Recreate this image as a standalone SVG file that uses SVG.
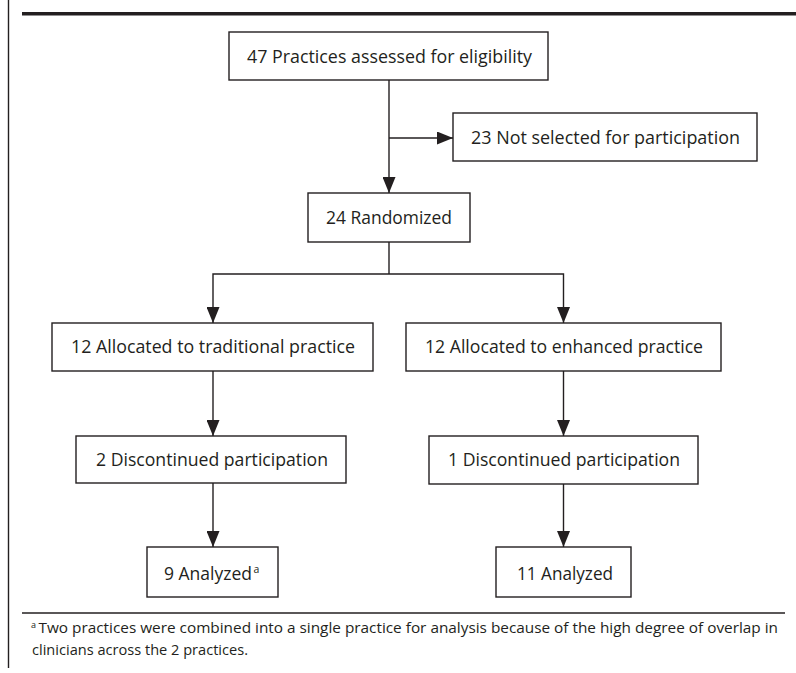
<svg xmlns="http://www.w3.org/2000/svg" width="796" height="673" viewBox="0 0 796 673">
<defs>
<style>
.box{fill:#fff;stroke:#231f20;stroke-width:1.4}
.lbl{font-family:"Open Sans","Liberation Sans",sans-serif;font-size:18px;fill:#231f20;text-anchor:middle}
.con{fill:none;stroke:#231f20;stroke-width:1.4}
.fn{font-family:"Open Sans","Liberation Sans",sans-serif;font-size:14.5px;fill:#231f20}
.sup{font-family:"Open Sans","Liberation Sans",sans-serif;font-size:9px;fill:#231f20}
</style>
<marker id="ah" markerUnits="userSpaceOnUse" markerWidth="16" markerHeight="13" refX="16" refY="6.5" orient="auto">
<path d="M0,0 L16,6.5 L0,13 Z" fill="#231f20"/>
</marker>
</defs>
<rect width="796" height="673" fill="#fff"/>
<line x1="8.5" y1="0" x2="8.5" y2="668" stroke="#231f20" stroke-width="1.4"/>
<rect x="22" y="12" width="774" height="3.5" fill="#231f20"/>

<g id="connectors">
<path class="con" d="M389,80 V193" marker-end="url(#ah)"/>
<path class="con" d="M389,138 H453" marker-end="url(#ah)"/>
<path class="con" d="M389,242 V274"/>
<path class="con" d="M389,274 H213 V323" marker-end="url(#ah)"/>
<path class="con" d="M389,274 H563.5 V323" marker-end="url(#ah)"/>
<path class="con" d="M213,371 V436" marker-end="url(#ah)"/>
<path class="con" d="M563.5,371 V436" marker-end="url(#ah)"/>
<path class="con" d="M213,483 V547" marker-end="url(#ah)"/>
<path class="con" d="M563.5,484 V547" marker-end="url(#ah)"/>
</g>

<g id="n-assessed">
<rect class="box" x="229" y="32" width="319" height="48"/>
<text class="lbl" x="389.5" y="63" textLength="285" lengthAdjust="spacingAndGlyphs">47 Practices assessed for eligibility</text>
</g>
<g id="n-notselected">
<rect class="box" x="453" y="113" width="304" height="48"/>
<text class="lbl" x="605.5" y="144" textLength="269" lengthAdjust="spacingAndGlyphs">23 Not selected for participation</text>
</g>
<g id="n-randomized">
<rect class="box" x="308" y="193" width="162" height="49"/>
<text class="lbl" x="389" y="224" textLength="126" lengthAdjust="spacingAndGlyphs">24 Randomized</text>
</g>
<g id="n-traditional">
<rect class="box" x="52" y="323" width="321" height="48"/>
<text class="lbl" x="213" y="353" textLength="284" lengthAdjust="spacingAndGlyphs">12 Allocated to traditional practice</text>
</g>
<g id="n-enhanced">
<rect class="box" x="406" y="323" width="315" height="48"/>
<text class="lbl" x="564" y="353" textLength="278" lengthAdjust="spacingAndGlyphs">12 Allocated to enhanced practice</text>
</g>
<g id="n-disc2">
<rect class="box" x="76" y="436" width="270" height="47"/>
<text class="lbl" x="212" y="466" textLength="232" lengthAdjust="spacingAndGlyphs">2 Discontinued participation</text>
</g>
<g id="n-disc1">
<rect class="box" x="429" y="436" width="269" height="48"/>
<text class="lbl" x="564" y="466" textLength="232" lengthAdjust="spacingAndGlyphs">1 Discontinued participation</text>
</g>
<g id="n-analyzed9">
<rect class="box" x="147" y="547" width="131" height="50"/>
<text class="lbl" x="208" y="580" textLength="88" lengthAdjust="spacingAndGlyphs">9 Analyzed</text>
<text class="sup" x="253.5" y="573" style="font-size:10.5px">a</text>
</g>
<g id="n-analyzed11">
<rect class="box" x="496" y="547" width="135" height="50"/>
<text class="lbl" x="565" y="580" textLength="96" lengthAdjust="spacingAndGlyphs">11 Analyzed</text>
</g>

<line x1="22" y1="613" x2="785" y2="613" stroke="#231f20" stroke-width="1.4"/>
<text class="sup" x="31" y="628">a</text>
<text class="fn" x="38.5" y="633" textLength="739.5" lengthAdjust="spacingAndGlyphs">Two practices were combined into a single practice for analysis because of the high degree of overlap in</text>
<text class="fn" x="32" y="655" textLength="216" lengthAdjust="spacingAndGlyphs">clinicians across the 2 practices.</text>
</svg>
